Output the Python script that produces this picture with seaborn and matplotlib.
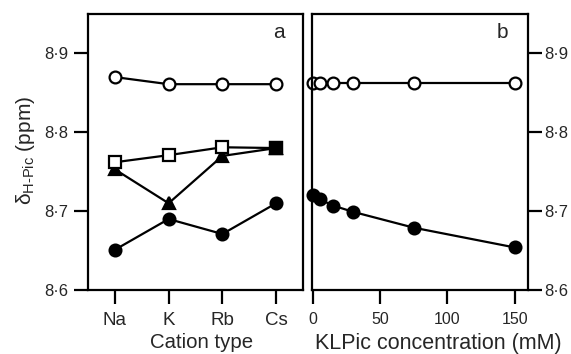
import matplotlib
matplotlib.use("Agg")
import matplotlib.pyplot as plt
import seaborn as sns

# ---- data ----
cations = ["Na", "K", "Rb", "Cs"]
open_circle_a = [8.870, 8.861, 8.861, 8.861]
open_square_a = [8.762, 8.771, 8.781, 8.780]
triangle_a = [8.753, 8.710, 8.770, 8.780]
filled_circle_a = [8.651, 8.690, 8.671, 8.710]

conc = [0, 5, 15, 30, 75, 150]
open_circle_b = [8.862, 8.862, 8.862, 8.862, 8.862, 8.862]
filled_circle_b = [8.720, 8.715, 8.707, 8.699, 8.679, 8.654]

yticks = [8.6, 8.7, 8.8, 8.9]
ytick_labels = ["8·6", "8·7", "8·8", "8·9"]
xticks_b = [0, 50, 100, 150]

sns.set_style("ticks")
plt.rcParams["font.family"] = ["Liberation Sans", "DejaVu Sans"]
plt.rcParams["mathtext.fontset"] = "custom"
plt.rcParams["mathtext.rm"] = "Liberation Sans"
plt.rcParams["mathtext.it"] = "Liberation Sans:italic"

fig = plt.figure(figsize=(5.71, 3.54), dpi=100)
ax1 = fig.add_axes([88 / 571, 64 / 354, 215 / 571, 276 / 354])
ax2 = fig.add_axes([312 / 571, 64 / 354, 216 / 571, 276 / 354])

lw = 1.6
ms = 8.5
common = dict(color="black", linewidth=lw, markersize=ms, markeredgewidth=1.6,
              markeredgecolor="black", sort=False, legend=False, clip_on=False)

# panel a
sns.lineplot(x=cations, y=open_circle_a, marker="o", markerfacecolor="white", ax=ax1, **common)
sns.lineplot(x=cations, y=triangle_a, marker="^", markerfacecolor="black", ax=ax1, **common)
sns.lineplot(x=cations, y=open_square_a, marker="s", markerfacecolor="white", ax=ax1, **common)
sns.lineplot(x=cations[-1:], y=open_square_a[-1:], marker="s", markerfacecolor="black", ax=ax1, **common)
sns.lineplot(x=cations, y=filled_circle_a, marker="o", markerfacecolor="black", ax=ax1, **common)

# panel b
sns.lineplot(x=conc, y=open_circle_b, marker="o", markerfacecolor="white", ax=ax2, **common)
sns.lineplot(x=conc, y=filled_circle_b, marker="o", markerfacecolor="black", ax=ax2, **common)

for ax in (ax1, ax2):
    ax.set_ylim(8.6, 8.95)
    ax.set_yticks(yticks)
    ax.set_yticklabels(ytick_labels)
    for s in ax.spines.values():
        s.set_visible(True)
        s.set_linewidth(1.6)
        s.set_color("black")
        s.set_zorder(5)
    ax.tick_params(direction="out", length=10, width=1.6, color="black")
    ax.tick_params(axis="y", labelsize=12, pad=4)
    ax.tick_params(axis="x", pad=6)

ax1.set_xlim(-0.5, 3.5)
ax1.set_xticks(range(len(cations)))
ax1.set_xticklabels(cations)
ax1.tick_params(axis="x", labelsize=13.5)
ax1.set_xlabel("Cation type", fontsize=14.7)
ax1.xaxis.set_label_coords(0.529, -0.155)
ax1.set_ylabel("δ$_{\\mathregular{H\u2010Pic}}$ (ppm)", fontsize=15)
ax1.yaxis.set_label_coords(-0.235, 0.507)
ax1.text(0.888, 0.913, "a", transform=ax1.transAxes, fontsize=15, ha="center", va="baseline")

ax2.set_xlim(-0.8, 160)
ax2.set_xticks(xticks_b)
ax2.tick_params(axis="x", labelsize=11.5)
ax2.yaxis.tick_right()
ax2.tick_params(axis="y", pad=1.5)
ax2.set_ylabel("")
ax2.set_xlabel("KLPic concentration (mM)", fontsize=15.5)
ax2.xaxis.set_label_coords(0.585, -0.155)
ax2.text(0.88, 0.913, "b", transform=ax2.transAxes, fontsize=15, ha="center", va="baseline")

fig.savefig("out.png", dpi=100)
